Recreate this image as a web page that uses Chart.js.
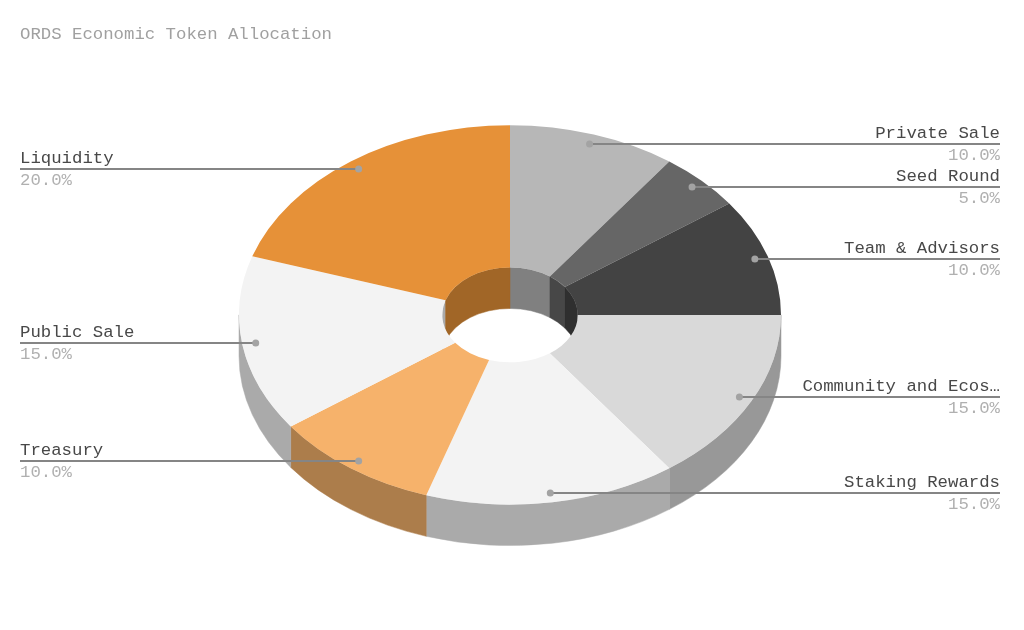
<!DOCTYPE html>
<html>
<head>
<meta charset="utf-8">
<title>ORDS Economic Token Allocation</title>
<script src="https://cdn.jsdelivr.net/npm/chart.js@4/dist/chart.umd.min.js"></script>
<style>
  html, body { margin: 0; padding: 0; background: #fff; }
  #wrap { width: 1024px; height: 630px; }
</style>
</head>
<body>
<div id="wrap"><canvas id="chart" width="1024" height="630"></canvas></div>
<script>
const titleText = 'ORDS Economic Token Allocation';
const categories = ['Private Sale', 'Seed Round', 'Team & Advisors', 'Community and Ecos…', 'Staking Rewards', 'Treasury', 'Public Sale', 'Liquidity'];
const shares = [10, 5, 10, 15, 15, 10, 15, 20];
const sliceColors = ['#b7b7b7', '#666666', '#434343', '#d9d9d9', '#f3f3f3', '#f6b26b', '#f3f3f3', '#e69138'];

const FONT = '"Liberation Mono", monospace';
const TILT = 0.7;      // vertical squash of the disc
const DEPTH = 41;      // height of the side wall, px
const SIDE_SHADE = 0.7;

function shade(hex, k) {
    const n = parseInt(hex.slice(1), 16);
    const r = Math.round((n >> 16 & 255) * k);
    const g = Math.round((n >> 8 & 255) * k);
    const b = Math.round((n & 255) * k);
    return 'rgb(' + r + ',' + g + ',' + b + ')';
}

// one band of wall between two angles, top edge on the disc, bottom edge DEPTH below
function drawWall(ctx, arc, radius, from, to, color) {
    if (to <= from) return;
    const ry = radius * TILT;
    ctx.beginPath();
    ctx.ellipse(arc.x, arc.y, radius, ry, 0, from, to);
    ctx.ellipse(arc.x, arc.y + DEPTH, radius, ry, 0, to, from, true);
    ctx.closePath();
    ctx.fillStyle = color;
    ctx.strokeStyle = color;
    ctx.lineWidth = 0.5;
    ctx.fill();
    ctx.stroke();
}

const pie3d = {
    id: 'pie3d',
    beforeDatasetDraw(chart, args) {
        const ctx = chart.ctx;
        const arcs = args.meta.data;
        arcs.forEach(function(arc, i) {
            // angles run from -PI/2, front of the disc is 0..PI, back is PI..2PI
            const color = shade(sliceColors[i], SIDE_SHADE);
            let a = arc.startAngle, b = arc.endAngle;
            drawWall(ctx, arc, arc.outerRadius, Math.max(a, 0), Math.min(b, Math.PI), color);
            drawWall(ctx, arc, arc.innerRadius, Math.max(a, Math.PI), Math.min(b, Math.PI * 2), color);
            drawWall(ctx, arc, arc.innerRadius, Math.max(a, -Math.PI), Math.min(b, 0), color);
        });
        const c = arcs[0];
        ctx.save();
        ctx.translate(c.x, c.y);
        ctx.scale(1, TILT);
        ctx.translate(-c.x, -c.y);
    },
    afterDatasetDraw(chart) {
        chart.ctx.restore();
    },
    afterDatasetsDraw(chart) {
        const ctx = chart.ctx;
        const arcs = chart.getDatasetMeta(0).data;
        ctx.save();
        ctx.font = '17.33px ' + FONT;
        ctx.textBaseline = 'alphabetic';
        arcs.forEach(function(arc, i) {
            const mid = (arc.startAngle + arc.endAngle) / 2;
            const px = arc.x + Math.cos(mid) * arc.outerRadius * 0.95;
            const py = arc.y + Math.sin(mid) * arc.outerRadius * 0.95 * TILT;
            const right = Math.cos(mid) > 0;
            const edge = right ? chart.width - 24 : 20;
            const lineY = Math.round(py);

            ctx.strokeStyle = '#858585';
            ctx.lineWidth = 2;
            ctx.beginPath();
            ctx.moveTo(px, lineY);
            ctx.lineTo(edge, lineY);
            ctx.stroke();

            ctx.fillStyle = '#a3a3a3';
            ctx.beginPath();
            ctx.arc(px, lineY, 3.5, 0, Math.PI * 2);
            ctx.fill();

            ctx.textAlign = right ? 'right' : 'left';
            ctx.fillStyle = '#484848';
            ctx.fillText(categories[i], edge, lineY - 6);
            ctx.fillStyle = '#b0b0b0';
            ctx.fillText(shares[i].toFixed(1) + '%', edge, lineY + 16);
        });
        ctx.restore();
    }
};

new Chart(document.getElementById('chart'), {
    type: 'doughnut',
    plugins: [pie3d],
    data: {
        labels: categories,
        datasets: [{
            data: shares,
            backgroundColor: sliceColors,
            borderWidth: 0,
            hoverOffset: 0,
            clip: false
        }]
    },
    options: {
        responsive: false,
        animation: false,
        radius: 271,
        cutout: '25%',
        layout: { padding: { left: 20, right: 24, top: 24, bottom: 45 } },
        plugins: {
            legend: { display: false },
            tooltip: { enabled: false },
            title: {
                display: true,
                text: titleText,
                align: 'start',
                color: '#a0a0a0',
                padding: 0,
                font: { family: FONT, size: 17.33, weight: 'normal' }
            }
        }
    }
});
</script>
</body>
</html>
